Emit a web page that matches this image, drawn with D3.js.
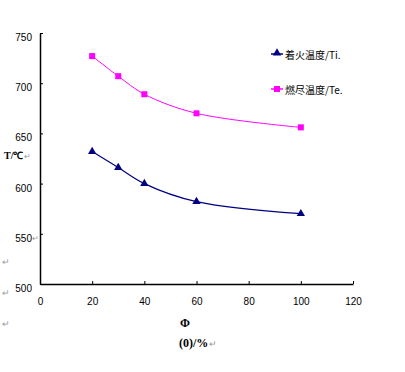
<!DOCTYPE html>
<html>
<head>
<meta charset="utf-8">
<script src="https://cdn.jsdelivr.net/npm/d3@7"></script>
<style>
body{margin:0;background:#fff;}
text{font-family:"Liberation Sans",Arial,sans-serif;}
</style>
</head>
<body>
<div id="chart"></div>
<script>
var phi = [20, 30, 40, 60, 100];
var ti = [632, 616, 600, 582, 570];
var te = [727, 707, 689, 670, 656];
var xTicks = [0, 20, 40, 60, 80, 100, 120];
var yTicks = [500, 550, 600, 650, 700, 750];
var seriesNames = ["着火温度/Ti.", "燃尽温度/Te."];

var svg = d3.select("#chart").append("svg")
	.attr("width", 405)
	.attr("height", 372);

var x = d3.scaleLinear().domain([0, 120]).range([40, 353]);
var y = d3.scaleLinear().domain([500, 750]).range([284, 33]);

var gx = svg.append("g")
	.attr("transform", "translate(0,284)")
	.call(d3.axisBottom(x).tickValues(xTicks).tickSize(-3).tickPadding(14).tickSizeOuter(0));
var gy = svg.append("g")
	.attr("transform", "translate(40,0)")
	.call(d3.axisLeft(y).tickValues(yTicks).tickSize(-3).tickPadding(8).tickSizeOuter(0));

gx.selectAll("text").style("font-size", "10px").attr("fill", "#000");
gy.selectAll("text").style("font-size", "10px").attr("fill", "#000").attr("dy", "0.75em");
gx.selectAll("line, path").attr("stroke", "#000");
gy.selectAll("line, path").attr("stroke", "#000");
gx.select(".domain").attr("stroke-width", 1.5);
gy.select(".domain").attr("stroke-width", 1.5);

var line = d3.line().curve(d3.curveCatmullRom.alpha(0.5))
	.x(function(d){ return x(d[0]); })
	.y(function(d){ return y(d[1]); });

var tiPts = phi.map(function(p, i){ return [p, ti[i]]; });
var tePts = phi.map(function(p, i){ return [p, te[i]]; });

svg.append("path").datum(tiPts).attr("d", line)
	.attr("fill", "none").attr("stroke", "#000080").attr("stroke-width", 1.2);
svg.append("path").datum(tePts).attr("d", line)
	.attr("fill", "none").attr("stroke", "#ff00ff").attr("stroke-width", 1);

var tri = d3.symbol().type(d3.symbolTriangle).size(30);
svg.selectAll(".tri").data(tiPts).enter().append("path")
	.attr("class", "tri")
	.attr("d", tri)
	.attr("transform", function(d){ return "translate(" + x(d[0]) + "," + y(d[1]) + ")"; })
	.attr("fill", "#000080");

svg.selectAll(".sq").data(tePts).enter().append("rect")
	.attr("class", "sq")
	.attr("x", function(d){ return x(d[0]) - 3; })
	.attr("y", function(d){ return y(d[1]) - 3; })
	.attr("width", 6).attr("height", 6)
	.attr("fill", "#ff00ff");

// legende
var leg = svg.append("g");
var colors = ["#000080", "#ff00ff"];
var legY = [54, 89];
seriesNames.forEach(function(n, i){
	leg.append("line")
		.attr("x1", 271).attr("x2", 283)
		.attr("y1", legY[i]).attr("y2", legY[i])
		.attr("stroke", colors[i]).attr("stroke-width", 1.5);
	if(i == 0){
		leg.append("path").attr("d", tri)
			.attr("transform", "translate(277," + (legY[i] - 1) + ")")
			.attr("fill", colors[i]);
	} else {
		leg.append("rect").attr("x", 274).attr("y", legY[i] - 3)
			.attr("width", 6).attr("height", 6).attr("fill", colors[i]);
	}
	leg.append("text")
		.attr("x", 285).attr("y", legY[i] + 5)
		.style("font-family", "'Noto Sans CJK SC',sans-serif")
		.style("font-size", "10px")
		.text(n);
});

// titres
svg.append("text").attr("x", 4).attr("y", 159)
	.style("font-family", "'Liberation Serif',serif").style("font-weight", "bold").style("font-size", "10px")
	.text("T/℃");
svg.append("text").attr("x", 24).attr("y", 159)
	.style("font-size", "8px").attr("fill", "#999").text("↵");
svg.append("text").attr("x", 32).attr("y", 241)
	.style("font-size", "8px").attr("fill", "#999").text("↵");

[265, 296, 327].forEach(function(yy){
	svg.append("text").attr("x", 2).attr("y", yy)
		.style("font-size", "9px").attr("fill", "#999").text("↵");
});

svg.append("text").attr("x", 185).attr("y", 327).attr("text-anchor", "middle")
	.style("font-family", "'Liberation Serif',serif").style("font-weight", "bold").style("font-size", "12px")
	.text("Φ");
svg.append("text").attr("x", 179).attr("y", 347)
	.style("font-family", "'Liberation Serif',serif").style("font-weight", "bold").style("font-size", "12px")
	.text("(0)/%");
svg.append("text").attr("x", 209).attr("y", 347)
	.style("font-size", "9px").attr("fill", "#999").text("↵");
</script>
</body>
</html>
